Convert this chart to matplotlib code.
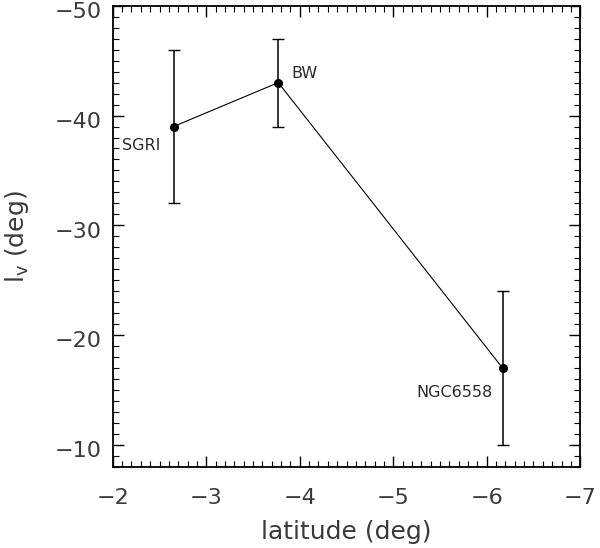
import matplotlib
matplotlib.use("Agg")
import matplotlib.pyplot as plt
from matplotlib.ticker import MultipleLocator
from matplotlib.transforms import ScaledTranslation

# field data
names = ["SGRI", "BW", "NGC6558"]
latitude = [-2.65, -3.77, -6.17]
lv = [-39.0, -43.0, -17.0]
lv_err = [7.0, 4.0, 7.0]

plt.rcParams["font.family"] = ["DejaVu Sans"]

fig = plt.figure(figsize=(6.0, 5.48), dpi=100)
ax = fig.add_axes([0.188, 0.148, 0.779, 0.8415])

ax.errorbar(latitude, lv, yerr=lv_err, fmt="o-", color="black", ms=5.5,
            lw=0.8, elinewidth=1.1, capsize=4, capthick=1.0, ecolor="black")

# text offsets in pixels (dx, dy up), alignment
offsets = {"SGRI": (-52, -19, "left"), "BW": (13, 9, "left"), "NGC6558": (-10, -24, "right")}
for n, x, y in zip(names, latitude, lv):
    dx, dy, ha = offsets[n]
    ax.annotate(n, (x, y), textcoords="offset pixels", xytext=(dx, dy),
                ha=ha, va="center", fontsize=11.5, color="#2a2a2a")

ax.set_xlim(-2, -7)
ax.set_ylim(-8, -50)
ax.xaxis.set_major_locator(MultipleLocator(1))
ax.xaxis.set_minor_locator(MultipleLocator(0.1))
ax.yaxis.set_major_locator(MultipleLocator(10))
ax.yaxis.set_minor_locator(MultipleLocator(1))
ax.tick_params(which="both", direction="in", top=True, right=True, labelsize=16,
               colors="#3a3a3a")
ax.tick_params(axis="x", pad=15)
ax.tick_params(axis="y", pad=8)
ax.tick_params(which="major", length=8, width=1.0, color="black")
ax.tick_params(which="minor", length=4, width=0.8, color="black")
for s in ax.spines.values():
    s.set_linewidth(1.3)

# y tick labels sit a little below their ticks in the original
shift = ScaledTranslation(0, -3 / 72, fig.dpi_scale_trans)
for lab in ax.get_yticklabels():
    lab.set_transform(lab.get_transform() + shift)

ax.set_xlabel("latitude (deg)", fontsize=18, color="#3a3a3a", labelpad=9)
ax.set_ylabel(r"l$_{\rm v}$ (deg)", fontsize=18, color="#3a3a3a", labelpad=17)

fig.savefig("out.png", dpi=100)
